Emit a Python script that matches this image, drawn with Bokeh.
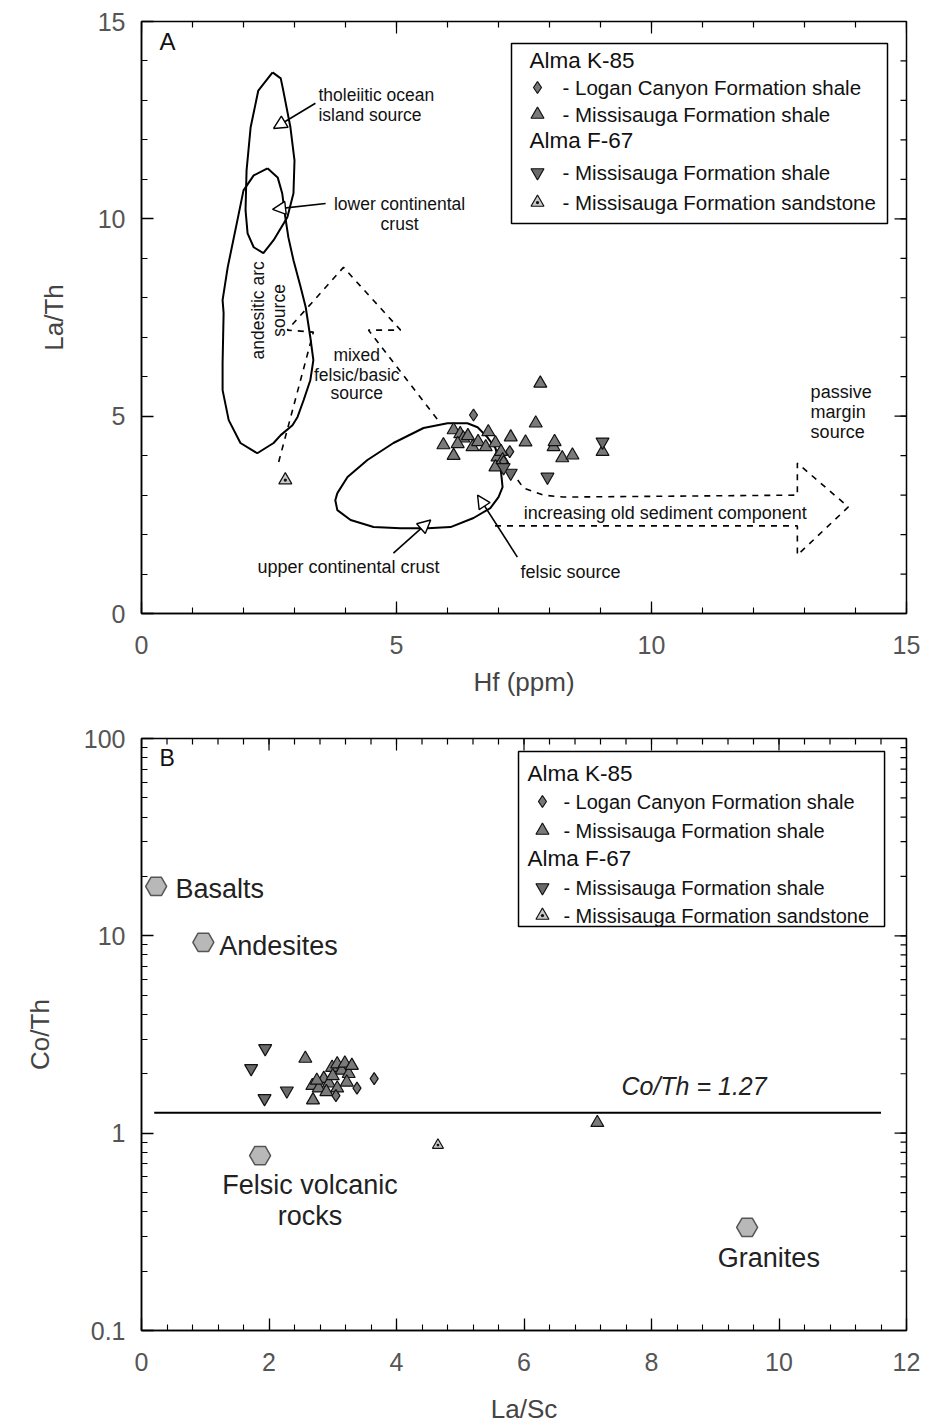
import math
from bokeh.plotting import figure
from bokeh.models import (Range1d, FixedTicker, Arrow, NormalHead, CustomJSTickFormatter)
from bokeh.layouts import column
from bokeh.core.properties import value
from bokeh.embed import file_html
from bokeh.resources import INLINE

FONT_NAME = "Liberation Sans"
FONT = value(FONT_NAME)

# ---------------- Panel A data: Hf (ppm) vs La/Th ----------------
a_logan_hf = [6.51, 7.22, 7.10]
a_logan_lath = [5.03, 4.10, 3.85]
a_k85_hf = [5.92, 6.12, 6.12, 6.25, 6.31, 6.49, 6.60, 6.75, 6.80, 6.94, 6.98, 6.94,
            7.05, 7.24, 7.08, 7.53, 7.73, 7.82, 8.08, 8.10, 8.25, 8.45, 6.40, 6.20, 9.04]
a_k85_lath = [4.27, 4.65, 4.00, 4.55, 4.44, 4.22, 4.35, 4.22, 4.60, 4.32, 3.96, 3.71,
              4.10, 4.47, 3.89, 4.34, 4.82, 5.83, 4.22, 4.35, 3.94, 4.01, 4.50, 4.30, 4.10]
a_f67_hf = [7.24, 7.96, 9.04, 7.10]
a_f67_lath = [3.56, 3.46, 4.35, 3.70]
a_sand_hf = [2.82]
a_sand_lath = [3.38]

# field outlines
tholeiitic_x = [2.57, 2.29, 2.14, 2.06, 2.04, 2.08, 2.20, 2.39, 2.59, 2.86, 2.98, 3.00, 2.92, 2.78, 2.73, 2.57]
tholeiitic_y = [13.71, 13.25, 12.32, 11.23, 10.22, 9.63, 9.28, 9.13, 9.46, 10.04, 10.65, 11.48, 12.32, 13.25, 13.56, 13.71]
andesitic_x = [2.47, 2.67, 2.76, 2.82, 2.88, 2.98, 3.12, 3.22, 3.31, 3.37, 3.31, 3.18, 3.06, 2.96, 2.73, 2.59,
               2.27, 1.94, 1.71, 1.59, 1.59, 1.61, 1.59, 1.69, 1.88, 2.00, 2.20, 2.47]
andesitic_y = [11.28, 11.05, 10.64, 10.04, 9.53, 8.95, 8.27, 7.76, 7.00, 6.42, 5.91, 5.41, 4.98, 4.77, 4.52, 4.32,
               4.06, 4.32, 4.90, 5.66, 6.34, 7.61, 7.94, 8.77, 9.96, 10.72, 11.10, 11.28]
upper_cc_x = [3.84, 4.04, 4.43, 4.94, 5.53, 6.00, 6.39, 6.59, 6.78, 6.94, 7.04, 7.08, 7.00, 6.84, 6.51,
              6.06, 5.61, 5.08, 4.55, 4.10, 3.84, 3.80, 3.84]
upper_cc_y = [3.05, 3.46, 3.89, 4.32, 4.70, 4.82, 4.82, 4.72, 4.47, 4.19, 3.71, 3.20, 2.95, 2.67, 2.42,
              2.19, 2.16, 2.16, 2.19, 2.37, 2.62, 2.87, 3.05]
mixed_x = [2.69, 3.37, 2.86, 3.96, 5.08, 4.45, 5.86]
mixed_y = [3.84, 7.13, 7.18, 8.77, 7.18, 7.18, 4.82]
passive_x = [7.24, 7.49, 7.88, 8.27, 12.86, 12.86, 13.86, 12.86, 12.86, 6.84]
passive_y = [3.63, 3.18, 3.00, 2.95, 3.00, 3.81, 2.70, 1.48, 2.22, 2.22]

a_ticks = [0, 5, 10, 15]

# ---------------- Panel B data: La/Sc vs Co/Th ----------------
b_logan_lasc = [3.65, 3.38, 3.05]
b_logan_coth = [1.89, 1.69, 1.55]
b_k85_lasc = [2.57, 2.69, 7.15, 2.68, 2.78, 2.86, 2.94, 2.99, 3.07, 3.14, 3.19, 3.25, 3.22, 3.07, 2.90, 3.30, 2.75, 3.00]
b_k85_coth = [2.39, 1.47, 1.13, 1.74, 1.69, 1.89, 1.79, 2.15, 2.24, 2.08, 2.26, 2.00, 1.81, 1.69, 1.62, 2.20, 1.85, 1.95]
b_f67_lasc = [1.94, 1.72, 1.93, 2.28]
b_f67_coth = [2.69, 2.13, 1.50, 1.64]
b_sand_lasc = [4.65]
b_sand_coth = [0.87]
ref_names = ["Basalts", "Andesites", "Felsic volcanic rocks", "Granites"]
ref_lasc = [0.23, 0.97, 1.86, 9.50]
ref_coth = [17.8, 9.27, 0.77, 0.333]
coth_line_x = [0.2, 11.6]
coth_line_y = [1.27, 1.27]

b_xticks = [0, 2, 4, 6, 8, 10, 12]
b_yticks = [0.1, 1, 10, 100]

# ---------------- helpers ----------------
A_L, A_W, A_T, A_H = 141, 765, 21, 592
B_L, B_W, B_T, B_H = 139, 767, 28, 592
MAJ, MIN = 12, 6


def ax(px):
    return (px - A_L) / A_W * 15


def ay(py):
    return (A_T + A_H - py) / A_H * 15


def bx(px):
    return (px - B_L) / B_W * 12


def by(py):  # py measured from top of panel B figure
    return 10 ** ((B_T + B_H - py) / B_H * 3 - 1)


TICK_COLOR = "#555555"


def style(p, xt, xminor, yt, yminor, ylog=False):
    p.grid.visible = False
    p.outline_line_color = "black"
    p.outline_line_width = 1.5
    xa = p.xaxis[0]
    ya = p.yaxis[0]
    xa.ticker = FixedTicker(ticks=xt, minor_ticks=xminor)
    ya.ticker = FixedTicker(ticks=yt, minor_ticks=yminor)
    if ylog:
        ya.formatter = CustomJSTickFormatter(code="return tick.toString();")
    for a in (xa, ya):
        a.major_tick_in = MAJ
        a.major_tick_out = 0
        a.minor_tick_in = MIN
        a.minor_tick_out = 0
        a.major_tick_line_color = "black"
        a.minor_tick_line_color = "black"
        a.major_tick_line_width = 1.3
        a.minor_tick_line_width = 1.1
        a.axis_line_color = "black"
        a.axis_line_width = 1.5
        a.major_label_text_font = FONT_NAME
        a.major_label_text_font_size = "25px"
        a.major_label_text_color = TICK_COLOR
        a.axis_label_text_font = FONT_NAME
        a.axis_label_text_font_style = "normal"
        a.axis_label_text_font_size = "26px"
        a.axis_label_text_color = "#444444"
    xa.major_label_standoff = 22
    ya.major_label_standoff = 16
    xa.axis_label_standoff = 10
    ya.axis_label_standoff = 26


def mirror_ticks(p, xt, xminor, yt, yminor, xmax, ymax, xpx_unit, ypx_unit, ylog=False):
    """Inward tick marks on the top and right frame edges."""
    x0, x1, y0, y1 = [], [], [], []
    for xs, ln in ((xt, MAJ), (xminor, MIN)):
        for x in xs:
            x0.append(x)
            x1.append(x)
            y0.append(ymax)
            y1.append(ymax / 10 ** (ln * ypx_unit) if ylog else ymax - ln * ypx_unit)
    for ys, ln in ((yt, MAJ), (yminor, MIN)):
        for y in ys:
            x0.append(xmax)
            x1.append(xmax - ln * xpx_unit)
            y0.append(y)
            y1.append(y)
    p.segment(x0=x0, y0=y0, x1=x1, y1=y1, line_color="black", line_width=1.2)


def legend(p, fx, fy, box, rows, fs, head_dx, mark_dx, text_dx):
    l, r, t, b = box
    p.quad(left=[fx(l)], right=[fx(r)], top=[fy(t)], bottom=[fy(b)],
           fill_color="white", line_color="black", line_width=1.5)
    for kind, py, label, style_kw in rows:
        if kind == "head":
            p.text(x=[fx(l + head_dx)], y=[fy(py)], text=[label], text_font=FONT,
                   text_font_size="22.5px", text_baseline="middle", text_color="#111111")
        else:
            p.scatter(x=[fx(l + mark_dx)], y=[fy(py)], **style_kw)
            p.text(x=[fx(l + text_dx)], y=[fy(py)], text=[label], text_font=FONT,
                   text_font_size=fs, text_baseline="middle", text_color="#111111")


M_LOGAN = dict(marker="diamond", size=12, fill_color="#777777", line_color="#111111", line_width=1.2)
M_K85 = dict(marker="triangle", size=13, fill_color="#7a7a7a", line_color="#111111", line_width=1.2)
M_F67 = dict(marker="inverted_triangle", size=13, fill_color="#6a6a6a", line_color="#111111", line_width=1.2)
M_SAND = dict(marker="triangle_dot", size=13, fill_color="#c8c8c8", line_color="#111111", line_width=1.2)


def lbl(p, x, y, t, size, align="center", angle=0.0, style="normal", color="#111111", baseline="middle"):
    p.text(x=[x], y=[y], text=[t], text_font=FONT, text_font_size=size,
           text_align=align, text_baseline=baseline, angle=angle,
           text_font_style=style, text_color=color)


# ================= Panel A =================
pA = figure(width=928, height=710, x_range=Range1d(0, 15), y_range=Range1d(0, 15),
            output_backend="svg", toolbar_location=None,
            min_border_left=A_L, min_border_right=928 - A_L - A_W,
            min_border_top=A_T, min_border_bottom=710 - A_T - A_H,
            x_axis_label="Hf (ppm)", y_axis_label="La/Th")
style(pA, a_ticks, list(range(0, 16)), a_ticks, list(range(0, 16)))
mirror_ticks(pA, a_ticks, list(range(0, 16)), a_ticks, list(range(0, 16)),
             15, 15, 15 / A_W, 15 / A_H)

pA.line(tholeiitic_x, tholeiitic_y, line_color="black", line_width=2)
pA.line(andesitic_x, andesitic_y, line_color="black", line_width=2)
pA.line(upper_cc_x, upper_cc_y, line_color="black", line_width=2)
pA.line(mixed_x, mixed_y, line_color="black", line_width=1.6, line_dash="6 6")
pA.line(passive_x, passive_y, line_color="black", line_width=1.6, line_dash="6 6")

for (xs, ys, xe, ye) in [(3.41, 12.93, 2.59, 12.29), (3.61, 10.39, 2.57, 10.24),
                         (4.94, 1.53, 5.67, 2.37), (7.37, 1.43, 6.59, 3.0)]:
    pA.add_layout(Arrow(x_start=xs, y_start=ys, x_end=xe, y_end=ye, line_width=1.6,
                        end=NormalHead(size=13, fill_color="white", line_width=1.4)))

pA.scatter(a_k85_hf, a_k85_lath, **M_K85)
pA.scatter(a_logan_hf, a_logan_lath, **M_LOGAN)
pA.scatter(a_f67_hf, a_f67_lath, **M_F67)
pA.scatter(a_sand_hf, a_sand_lath, **M_SAND)

FA = "17.5px"
lbl(pA, 3.47, 13.13, "tholeiitic ocean", FA, "left")
lbl(pA, 3.47, 12.62, "island source", FA, "left")
lbl(pA, 5.06, 10.37, "lower continental", FA)
lbl(pA, 5.06, 9.86, "crust", FA)
lbl(pA, 2.29, 7.68, "andesitic arc", FA, angle=math.pi / 2)
lbl(pA, 2.70, 7.68, "source", FA, angle=math.pi / 2)
lbl(pA, 4.22, 6.54, "mixed", FA)
lbl(pA, 4.22, 6.04, "felsic/basic", FA)
lbl(pA, 4.22, 5.58, "source", FA)
lbl(pA, 4.06, 1.18, "upper continental crust", "18px")
lbl(pA, 8.41, 1.05, "felsic source", "18px")
lbl(pA, 10.27, 2.54, "increasing old sediment component", "18px")
lbl(pA, 13.12, 5.6, "passive", "18px", "left")
lbl(pA, 13.12, 5.1, "margin", "18px", "left")
lbl(pA, 13.12, 4.6, "source", "18px", "left")
lbl(pA, ax(159), ay(41), "A", "24px", "left")

legend(pA, ax, ay, (511, 887, 43, 223), [
    ("head", 60, "Alma K-85", None),
    ("item", 87, "- Logan Canyon Formation shale", M_LOGAN),
    ("item", 114, "- Missisauga Formation shale", M_K85),
    ("head", 140, "Alma F-67", None),
    ("item", 172, "- Missisauga Formation shale", M_F67),
    ("item", 202, "- Missisauga Formation sandstone", M_SAND),
], "20.5px", 18, 26, 51)

# ================= Panel B =================
pB = figure(width=928, height=718, x_range=Range1d(0, 12), y_range=Range1d(0.1, 100),
            y_axis_type="log", output_backend="svg", toolbar_location=None,
            min_border_left=B_L, min_border_right=928 - B_L - B_W,
            min_border_top=B_T, min_border_bottom=718 - B_T - B_H,
            x_axis_label="La/Sc", y_axis_label="Co/Th")
b_xminor = [round(i * 0.4, 2) for i in range(0, 31)]
b_yminor = [k * 10.0 ** e for e in (-1, 0, 1) for k in range(1, 10)] + [100]
style(pB, b_xticks, b_xminor, b_yticks, b_yminor, ylog=True)
pB.xaxis[0].axis_label_standoff = 20
mirror_ticks(pB, b_xticks, b_xminor, b_yticks, b_yminor, 12, 100, 12 / B_W, 3 / B_H, ylog=True)

pB.line(coth_line_x, coth_line_y, line_color="black", line_width=2)
pB.scatter(ref_lasc, ref_coth, marker="hex", size=21, fill_color="#b8b8b8",
           line_color="#555555", line_width=1.5)
pB.scatter(b_k85_lasc, b_k85_coth, **M_K85)
pB.scatter(b_logan_lasc, b_logan_coth, **M_LOGAN)
pB.scatter(b_f67_lasc, b_f67_coth, **M_F67)
pB.scatter(b_sand_lasc, b_sand_coth, **dict(M_SAND, size=11))

OFF = 710  # top of panel B in page pixels
FB = "27px"
lbl(pB, bx(173), by(888 - OFF), ref_names[0], FB, "left", color="#222222")
lbl(pB, bx(217), by(945 - OFF), ref_names[1], FB, "left", color="#222222")
lbl(pB, bx(308), by(1184 - OFF), "Felsic volcanic", FB, color="#222222")
lbl(pB, bx(308), by(1215 - OFF), "rocks", FB, color="#222222")
lbl(pB, bx(768), by(1257 - OFF), ref_names[3], FB, color="#222222")
lbl(pB, bx(693), by(1085 - OFF), "Co/Th = 1.27", "25px", style="italic", color="#222222")
lbl(pB, bx(157), by(757 - OFF), "B", "23px", "left")

legend(pB, bx, lambda py: by(py - OFF), (517, 884, 751, 926), [
    ("head", 773, "Alma K-85", None),
    ("item", 801, "- Logan Canyon Formation shale", M_LOGAN),
    ("item", 830, "- Missisauga Formation shale", M_K85),
    ("head", 858, "Alma F-67", None),
    ("item", 887, "- Missisauga Formation shale", M_F67),
    ("item", 915, "- Missisauga Formation sandstone", M_SAND),
], "20px", 9, 24, 45)

layout = column(pA, pB, spacing=0)
open("out.html", "w").write(file_html(layout, INLINE))
